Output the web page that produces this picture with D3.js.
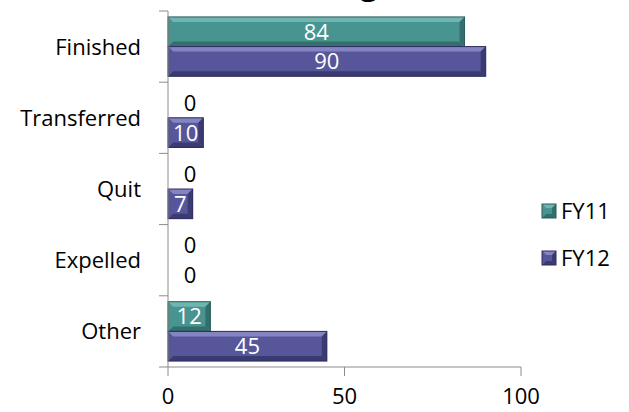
<!DOCTYPE html>
<html>
<head>
<meta charset="utf-8">
<script src="https://cdn.jsdelivr.net/npm/d3@7"></script>
<style>
  html, body { margin: 0; padding: 0; background: #fff; }
  svg { display: block; }
  text { font-family: "Open Sans", "Noto Sans", sans-serif; }
</style>
</head>
<body>
<svg id="chart" width="629" height="412"></svg>
<script>
// Reasons students left the program, by fiscal year
const categories = ["Finished", "Transferred", "Quit", "Expelled", "Other"];
const seriesNames = ["FY11", "FY12"];
const fy11 = [84, 0, 0, 0, 12];
const fy12 = [90, 10, 7, 0, 45];
const xTicks = [0, 50, 100];
const titleText = "Reasons for Leaving";

const palette = {
  FY11: { base: "#489490", light: "#6fb6b3", dark: "#336f6c", edge: "#2a5c59" },
  FY12: { base: "#57569a", light: "#8584c2", dark: "#3b3b74", edge: "#2c2c5c" }
};

const svg = d3.select("#chart");
const margin = { left: 168, top: 11, bottom: 45 };
const W = 629, H = 412;
const fs = "22px";

const x = d3.scaleLinear().domain([0, 100]).range([margin.left, 521]);
const y = d3.scaleBand().domain(categories).range([margin.top, H - margin.bottom]).paddingInner(0).paddingOuter(0);
const inner = d3.scaleBand().domain(seriesNames).range([0, y.bandwidth()]).paddingInner(0).paddingOuter(0.2);

// Title (sits mostly above the visible area)
svg.append("text")
  .attr("x", 378).attr("y", -6)
  .attr("text-anchor", "end")
  .style("font-size", "32px").style("font-weight", "bold")
  .attr("fill", "#000")
  .text(titleText);

// Bevelled bar drawing
function bevelBar(g, x0, y0, w, h, c, bev) {
  if (w <= 0) return;
  const b = Math.min(bev || 5, w / 2, h / 2);
  const grp = g.append("g").attr("transform", `translate(${x0},${y0})`);
  grp.append("rect").attr("width", w).attr("height", h).attr("fill", c.base);
  grp.append("polygon").attr("points", `0,0 ${w},0 ${w - b},${b} ${b},${b}`).attr("fill", c.light);
  grp.append("polygon").attr("points", `0,${h} ${w},${h} ${w - b},${h - b} ${b},${h - b}`).attr("fill", c.dark);
  grp.append("polygon").attr("points", `0,0 ${b},${b} ${b},${h - b} 0,${h}`).attr("fill", c.base);
  grp.append("polygon").attr("points", `${w},0 ${w - b},${b} ${w - b},${h - b} ${w},${h}`).attr("fill", c.dark);
  grp.append("rect").attr("width", w).attr("height", h).attr("fill", "none")
    .attr("stroke", c.edge).attr("stroke-width", 1);
}

const series = [
  { name: "FY11", values: fy11 },
  { name: "FY12", values: fy12 }
];

const barsG = svg.append("g");
const labelsG = svg.append("g");
series.forEach(s => {
  s.values.forEach((v, i) => {
    const cat = categories[i];
    const yy = y(cat) + inner(s.name);
    const h = inner.bandwidth();
    bevelBar(barsG, x(0), yy, x(v) - x(0), h, palette[s.name]);
    const cx = v === 0 ? x(0) + 22 : (x(0) + x(v)) / 2;
    labelsG.append("text")
      .attr("x", cx).attr("y", yy + h / 2)
      .attr("dy", "0.36em")
      .attr("text-anchor", "middle")
      .style("font-size", fs)
      .attr("fill", v === 0 ? "#000" : "#fff")
      .text(v);
  });
});

// Axes
const axisColor = "#8c8c8c";
const axG = svg.append("g");
axG.append("line").attr("x1", x(0)).attr("x2", x(0))
  .attr("y1", y.range()[0]).attr("y2", y.range()[1]).attr("stroke", axisColor);
const bounds = categories.map(c => y(c)).concat([y.range()[1]]);
axG.selectAll("line.yt").data(bounds).join("line").attr("class", "yt")
  .attr("x1", x(0) - 9).attr("x2", x(0)).attr("y1", d => d).attr("y2", d => d)
  .attr("stroke", axisColor);
axG.append("line").attr("x1", x(0)).attr("x2", x(100))
  .attr("y1", y.range()[1]).attr("y2", y.range()[1]).attr("stroke", axisColor);
axG.selectAll("line.xt").data(xTicks).join("line").attr("class", "xt")
  .attr("x1", d => x(d)).attr("x2", d => x(d))
  .attr("y1", y.range()[1]).attr("y2", y.range()[1] + 9).attr("stroke", axisColor);
axG.selectAll("text.xl").data(xTicks).join("text").attr("class", "xl")
  .attr("x", d => x(d)).attr("y", 396).attr("dy", "0.36em")
  .attr("text-anchor", "middle").style("font-size", fs).attr("fill", "#000")
  .text(d => d);
axG.selectAll("text.yl").data(categories).join("text").attr("class", "yl")
  .attr("x", 141).attr("y", d => y(d) + y.bandwidth() / 2).attr("dy", "0.36em")
  .attr("text-anchor", "end").style("font-size", fs).attr("fill", "#000")
  .text(d => d);

// Legend
const legend = svg.append("g");
seriesNames.forEach((n, i) => {
  const ly = 211 + i * 47;
  bevelBar(legend, 542, ly - 7, 14, 14, palette[n], 4);
  legend.append("text").attr("x", 561).attr("y", ly).attr("dy", "0.36em")
    .style("font-size", fs).attr("fill", "#000").text(n);
});
</script>
</body>
</html>
